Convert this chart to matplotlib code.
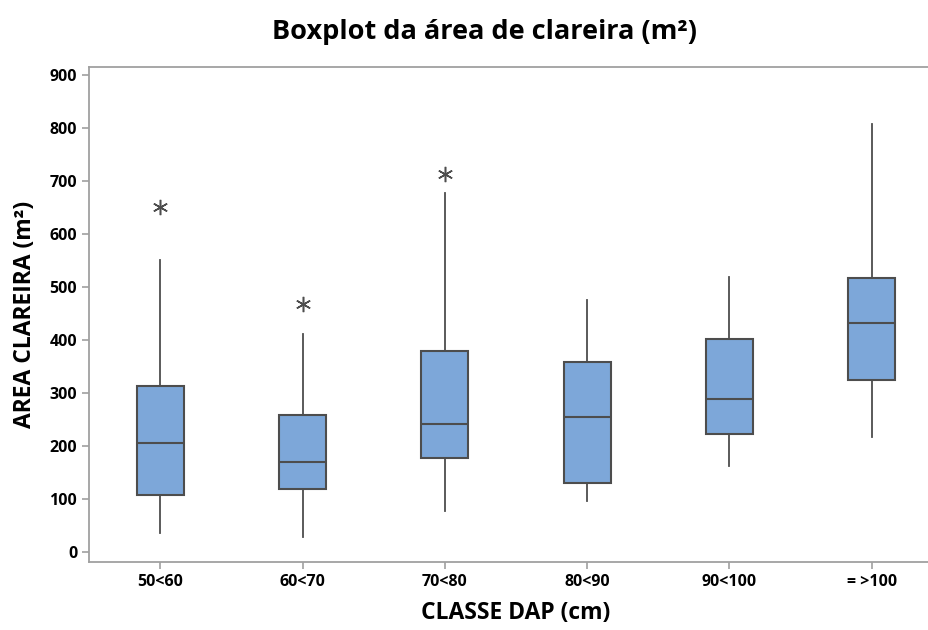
import matplotlib.pyplot as plt

# classes and box statistics (m2)
classes = ['50<60', '60<70', '70<80', '80<90', '90<100', '= >100']
whislo = [36, 27, 76, 96, 162, 216]
q1 = [107, 119, 177, 130, 223, 325]
med = [206, 169, 242, 255, 289, 431]
q3 = [312, 258, 378, 358, 401, 517]
whishi = [551, 411, 677, 475, 518, 807]
outliers = [[650], [467], [713], [], [], []]

plt.rcParams['font.family'] = ['Open Sans', 'DejaVu Sans']

stats = []
for i in range(len(classes)):
    stats.append({'label': classes[i], 'whislo': whislo[i], 'q1': q1[i], 'med': med[i],
                  'q3': q3[i], 'whishi': whishi[i], 'fliers': outliers[i]})

fig = plt.figure(figsize=(9.29, 6.30), dpi=100)
ax = fig.add_axes([89/929, 1-561.7/630, (943-89)/929, (561.7-66.7)/630])

edge = '#4d4d4d'
ax.bxp(stats, positions=range(1, 7), widths=0.33, patch_artist=True, showcaps=False,
       boxprops=dict(facecolor='#7da7d9', edgecolor=edge, linewidth=1.5),
       medianprops=dict(color=edge, linewidth=1.5),
       whiskerprops=dict(color=edge, linewidth=1.3),
       flierprops=dict(marker=(6, 2, 0), markersize=11, markeredgecolor=edge,
                       markeredgewidth=1.1, linestyle='none'))

ax.set_xlim(0.5, 6.5)
ax.set_ylim(-18.9, 915.6)
ax.set_yticks(range(0, 901, 100))
ax.set_xticks(range(1, 7))
ax.set_xticklabels(classes)

for s in ax.spines.values():
    s.set_color('#a0a0a0')
    s.set_linewidth(1.3)
ax.spines['right'].set_visible(False)
ax.tick_params(colors='#a0a0a0', length=5, width=1.2, labelcolor='black', labelsize=11.5)
for lab in ax.get_xticklabels() + ax.get_yticklabels():
    lab.set_fontweight('bold')

ax.set_xlabel('CLASSE DAP (cm)', fontsize=16.5, fontweight='bold', labelpad=8)
ax.set_ylabel('AREA CLAREIRA (m²)', fontsize=16.5, fontweight='bold', labelpad=9)
fig.text(485/929, 1-32/630, 'Boxplot da área de clareira (m²)', ha='center', va='center',
         fontsize=19.5, fontweight='bold')

fig.savefig('out.png', dpi=100)
